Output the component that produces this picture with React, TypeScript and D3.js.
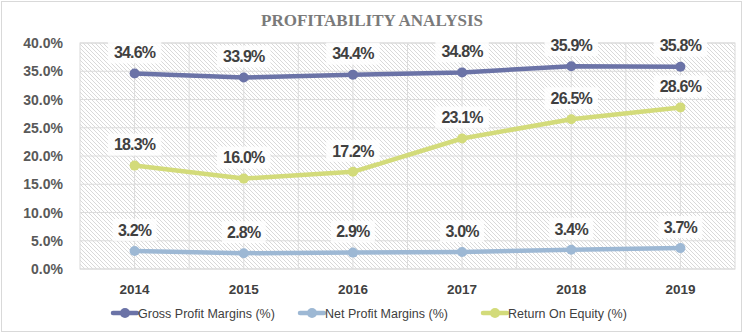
import React, { useEffect } from "react";
import * as d3 from "d3";

const years = ["2014", "2015", "2016", "2017", "2018", "2019"];
const grossProfit = [34.6, 33.9, 34.4, 34.8, 35.9, 35.8];
const netProfit = [3.2, 2.8, 2.9, 3.0, 3.4, 3.7];
const roe = [18.3, 16.0, 17.2, 23.1, 26.5, 28.6];
const seriesNames = ["Gross Profit Margins (%)", "Net Profit Margins (%)", "Return On Equity (%)"];
const yTicks = [0, 5, 10, 15, 20, 25, 30, 35, 40];
const title = "PROFITABILITY ANALYSIS";

const W = 743, H = 334;
const plot = { left: 80, right: 735, top: 43, bottom: 269 };
const colors = ["#6b73a7", "#9db8d4", "#d3db7a"];

export default function App() {
  useEffect(() => {
    document.body.style.margin = "0";
  }, []);

  const x = d3.scaleBand<string>().domain(years).range([plot.left, plot.right]);
  const y = d3.scaleLinear().domain([0, 40]).range([plot.bottom, plot.top]);
  const cx = (d: string) => (x(d) as number) + x.bandwidth() / 2;
  const line = d3
    .line<number>()
    .x((_, i) => cx(years[i]))
    .y((v) => y(v));

  const series = [grossProfit, netProfit, roe];
  const halfLines = d3.range(1, years.length * 2).map((k) => plot.left + (k * x.bandwidth()) / 2);
  const fontSans = "'Liberation Sans', Arial, sans-serif";
  const legendX = [113, 300, 483];

  return (
    <svg width={W} height={H} style={{ display: "block" }} xmlns="http://www.w3.org/2000/svg">
      <defs>
        <pattern id="hatch" patternUnits="userSpaceOnUse" width="4" height="4">
          <rect width="4" height="4" fill="#ffffff" />
          <path d="M-1,-1 L5,5 M-1,3 L1,5 M3,-1 L5,1" stroke="#cfcfcf" strokeWidth="0.8" />
        </pattern>
      </defs>
      <rect x={0} y={0} width={W} height={H} fill="#ffffff" />
      <rect x={1.5} y={1.5} width={W - 3} height={H - 4} fill="#ffffff" stroke="#d9d9d9" strokeWidth={1} />
      <text
        x={372}
        y={26}
        textAnchor="middle"
        fontFamily="'Liberation Serif', 'DejaVu Serif', serif"
        fontWeight="bold"
        fontSize={16.5}
        fill="#7a7a7a"
        textLength={222}
        lengthAdjust="spacingAndGlyphs"
      >
        {title}
      </text>

      <rect
        x={plot.left}
        y={plot.top}
        width={plot.right - plot.left}
        height={plot.bottom - plot.top}
        fill="url(#hatch)"
        stroke="#d9d9d9"
      />
      {yTicks.map((t) => (
        <line key={"h" + t} x1={plot.left} x2={plot.right} y1={y(t)} y2={y(t)} stroke="#dcdcdc" strokeWidth={1} />
      ))}
      {halfLines.map((v, i) => (
        <line key={"v" + i} x1={v} x2={v} y1={plot.top} y2={plot.bottom} stroke="#dcdcdc" strokeWidth={1} />
      ))}
      {yTicks.map((t) => (
        <text
          key={"yt" + t}
          x={63}
          y={y(t)}
          dy="0.36em"
          textAnchor="end"
          fontFamily={fontSans}
          fontWeight="bold"
          fontSize={14}
          fill="#595959"
        >
          {d3.format(".1f")(t) + "%"}
        </text>
      ))}
      {years.map((yr) => (
        <text
          key={"xt" + yr}
          x={cx(yr)}
          y={289}
          dy="0.36em"
          textAnchor="middle"
          fontFamily={fontSans}
          fontWeight="bold"
          fontSize={13.5}
          fill="#404040"
        >
          {yr}
        </text>
      ))}

      {series.map((s, si) => (
        <g key={"s" + si}>
          <path d={line(s) || ""} fill="none" stroke={colors[si]} strokeWidth={4.5} strokeLinejoin="round" strokeLinecap="round" />
          {s.map((v, i) => (
            <circle key={i} cx={cx(years[i])} cy={y(v)} r={5} fill={colors[si]} />
          ))}
        </g>
      ))}

      {series.map((s, si) =>
        s.map((v, i) => {
          const lx = cx(years[i]);
          const ly = y(v) - 21;
          const label = d3.format(".1f")(v) + "%";
          const w = label.length * 9.5 + 6;
          return (
            <g key={"l" + si + "-" + i}>
              <rect x={lx - w / 2} y={ly - 11} width={w} height={22} fill="#ffffff" opacity={0.85} />
              <text
                x={lx}
                y={ly}
                dy="0.36em"
                textAnchor="middle"
                fontFamily={fontSans}
                fontWeight="bold"
                fontSize={16}
                letterSpacing={-0.8}
                fill="#404040"
              >
                {label}
              </text>
            </g>
          );
        })
      )}

      {seriesNames.map((n, si) => (
        <g key={"lg" + si}>
          <line x1={legendX[si]} x2={legendX[si] + 24} y1={313} y2={313} stroke={colors[si]} strokeWidth={4.5} strokeLinecap="round" />
          <circle cx={legendX[si] + 12} cy={313} r={5} fill={colors[si]} />
          <text
            x={legendX[si] + 25}
            y={313}
            dy="0.36em"
            fontFamily={fontSans}
            fontSize={12.5}
            fill="#404040"
          >
            {n}
          </text>
        </g>
      ))}
    </svg>
  );
}
